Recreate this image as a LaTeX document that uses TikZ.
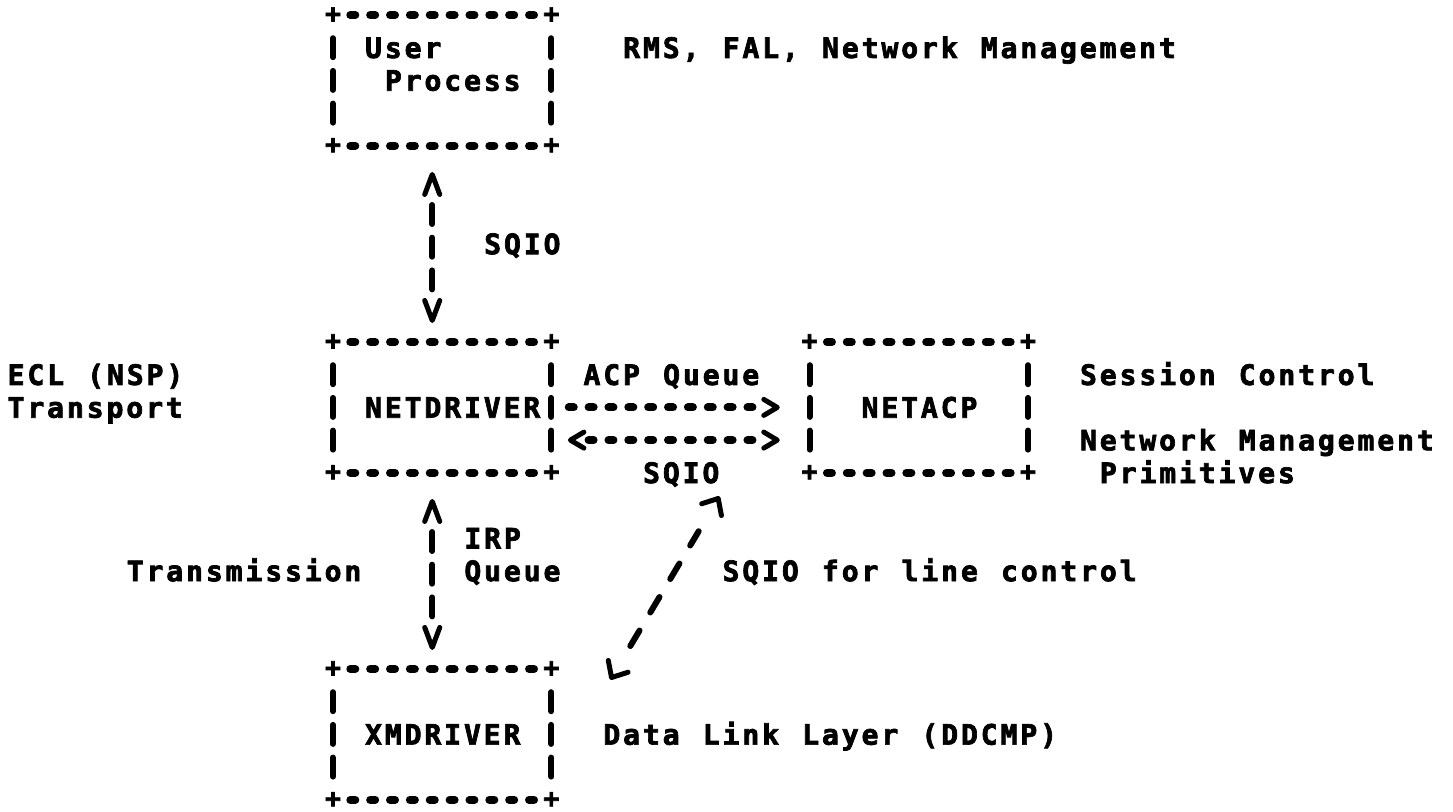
\documentclass[tikz,border=0pt]{standalone}
\usepackage{fontspec}
\usepackage{tikz}
\usetikzlibrary{arrows.meta, decorations.markings}
\newfontfamily\asciifont[LetterSpace=10.18, WordSpace=1.169, BoldFeatures={FakeBold=2.5}]{DejaVu Sans Mono}
\newfontfamily\crossfont[BoldFeatures={FakeBold=2.5}]{DejaVu Sans Mono}

\begin{document}
\begin{tikzpicture}[x=0.3972cm, y=-0.654cm,
    lbl/.style={font=\asciifont\bfseries\fontsize{16}{19}\selectfont, anchor=west, inner sep=0pt, text height=11.66pt, text depth=0pt},
    corner/.style={font=\crossfont\bfseries\fontsize{15}{18}\selectfont, inner sep=0pt},
    frame/.style={minimum width=4.369cm, minimum height=2.616cm, inner sep=0pt, outer sep=0pt},
    hbar/.style={line width=0.16cm, line cap=round, dash pattern=on 0.1cm off 0.2972cm, shorten <=0.3472cm, shorten >=0.3472cm},
    vbar/.style={line width=0.12cm, line cap=round, dash pattern=on 0.38cm off 0.274cm, shorten <=0.464cm, shorten >=0.464cm},
    vtip/.tip={Straight Barb[round, length=0.4cm, width=0.3cm, line width=0.1cm]},
    htip/.tip={Straight Barb[round, length=0.27cm, width=0.32cm, line width=0.1cm]},
    stip/.tip={Straight Barb[round, length=0.26cm, width=0.46cm, line width=0.1cm]},
    vlink/.style={line width=0.12cm, line cap=round, dash pattern=on 0.38cm off 0.274cm, shorten <=1.184cm, shorten >=1.053cm,
      postaction={decorate, decoration={markings,
        mark=at position 0.523cm with {\arrowreversed{vtip}},
        mark=at position -0.38cm with {\arrow{vtip}}}}},
    hlink/.style={line width=0.16cm, line cap=round, dash pattern=on 0.1cm off 0.2972cm, shorten >=1.1416cm,
      postaction={decorate, decoration={markings,
        mark=at position -0.596cm with {\arrow{htip}}}}},
    slink/.style={line width=0.12cm, line cap=round, dash pattern=on 0.36cm off 0.42cm, shorten <=0.794cm, shorten >=0.823cm,
      postaction={decorate, decoration={markings,
        mark=at position 0.01cm with {\arrowreversed{stip}},
        mark=at position -0.01cm with {\arrow{stip}}}}}]
  \useasboundingbox (-0.765,-0.459) rectangle (72.40,24.37);

  % boxes
  \node[frame] (user) at (21.5,2) {};
  \node[frame] (netdriver) at (21.5,12) {};
  \node[frame] (netacp) at (45.5,12) {};
  \node[frame] (xmdriver) at (21.5,22) {};
  \foreach \b in {user,netdriver,netacp,xmdriver} {
    \path (\b.north west) edge[hbar] (\b.north east)
          (\b.south west) edge[hbar] (\b.south east)
          (\b.north west) edge[vbar] (\b.south west)
          (\b.north east) edge[vbar] (\b.south east);
    \foreach \c/\n in {north west/nw,north east/ne,south west/sw,south east/se}
      \node[corner] (\b\n) at (\b.\c) {+};
  }

  % texts
  \node[lbl] (usr) at (17.6,1) {User};
  \node[lbl] (prc) at (18.6,2) {Process};
  \node[lbl] (rms) at (30.6,1) {RMS, FAL, Network Management};
  \node[lbl] (sqio1) at (23.6,7) {SQIO};
  \node[lbl] (ecl) at (-0.4,11) {ECL (NSP)};
  \node[lbl] (trans) at (-0.4,12) {Transport};
  \node[lbl] (acpq) at (28.6,11) {ACP Queue};
  \node[lbl] (ndrv) at (17.6,12) {NETDRIVER};
  \node[lbl] (nacp) at (42.6,12) {NETACP};
  \node[lbl] (sess) at (53.6,11) {Session Control};
  \node[lbl] (nmgmt) at (53.6,13) {Network Management};
  \node[lbl] (prim) at (54.6,14) {Primitives};
  \node[lbl] (sqio2) at (31.6,14) {SQIO};
  \node[lbl] (irp) at (22.6,16) {IRP};
  \node[lbl] (queue) at (22.6,17) {Queue};
  \node[lbl] (xmit) at (5.6,17) {Transmission};
  \node[lbl] (sqio3) at (35.6,17) {SQIO for line control};
  \node[lbl] (xdrv) at (17.6,22) {XMDRIVER};
  \node[lbl] (dll) at (29.6,22) {Data Link Layer (DDCMP)};

  % links
  \draw[vlink] ([xshift=-0.1986cm]user.south) -- ([xshift=-0.1986cm]netdriver.north);
  \draw[vlink] ([xshift=-0.1986cm]netdriver.south) -- ([xshift=-0.1986cm]xmdriver.north);
  \draw[hlink, shorten <=0.3472cm] (netdriver.east) -- (netacp.west);
  \draw[hlink, shorten <=0.744cm, postaction={decorate, decoration={markings,
        mark=at position 0.33cm with {\arrowreversed{htip}}}}]
    ([yshift=-0.654cm]netdriver.east) -- ([yshift=-0.654cm]netacp.west);
  \draw[slink] ([shift={(1.172cm,-0.222cm)}]xmdriver.north east) -- ([yshift=-0.25cm]sqio2.south east);
\end{tikzpicture}
\end{document}
